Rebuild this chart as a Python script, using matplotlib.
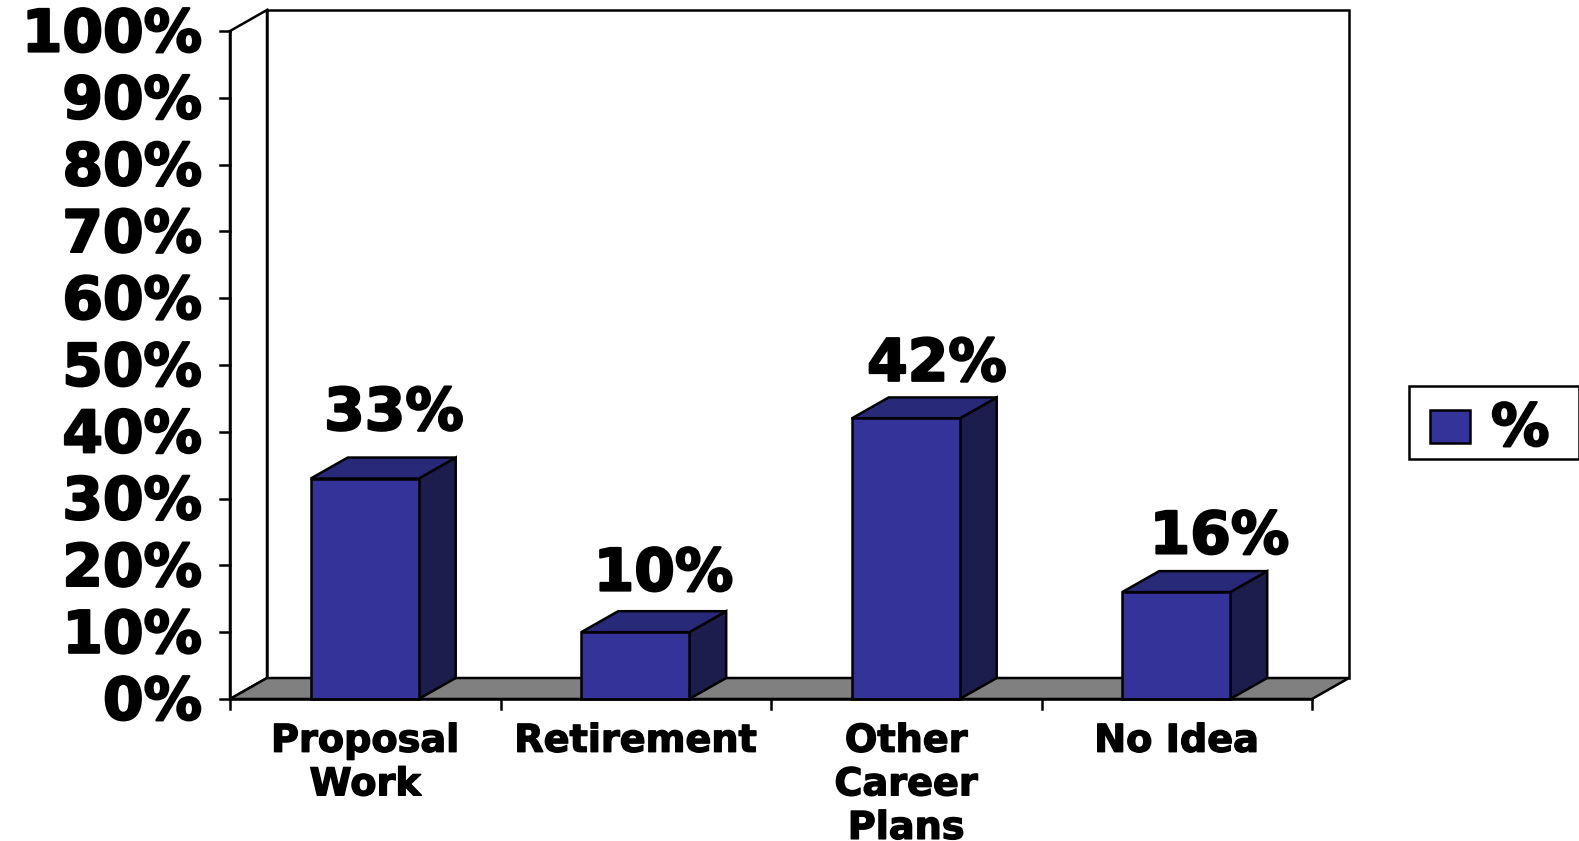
import matplotlib
matplotlib.use("Agg")
import matplotlib.pyplot as plt
import matplotlib.patheffects as pe
from matplotlib.patches import Polygon, Rectangle

categories = ["Proposal\nWork", "Retirement", "Other\nCareer\nPlans", "No Idea"]
values = [33, 10, 42, 16]
value_labels = ["33%", "10%", "42%", "16%"]
y_ticks = list(range(0, 101, 10))
series_name = "%"

W, H = 1579, 841
L, R, T, B = 230, 1312, 31, 699
DX_PX, DY_PX = 37, 21
FRONT, TOP, SIDE = "#333399", "#29297a", "#1c1c4d"
label_offsets_px = [(1, 9), (0, 2), (3, -2), (15, -1)]
plt.rcParams["font.family"] = ["DejaVu Sans"]
plt.rcParams["font.weight"] = "bold"

fig = plt.figure(figsize=(W / 100, H / 100), dpi=100, facecolor="white")
ax = fig.add_axes([L / W, 1 - B / H, (R - L) / W, (B - T) / H])
n = len(categories)
ax.set_xlim(0, n)
ax.set_ylim(0, 100)
ax.patch.set_visible(False)
for s in ax.spines.values():
    s.set_visible(False)
ax.set_xticks([])
ax.set_yticks([])

ux = (R - L) / n   # pixels per category
uy = (B - T) / 100  # pixels per percent
dx = DX_PX / ux
dy = DY_PX / uy
lw = 1.8
kw = dict(clip_on=False, edgecolor="black", linewidth=lw, joinstyle="miter")
big = dict(fontsize=42, fontweight="bold", path_effects=[pe.withStroke(linewidth=1.6, foreground="black")])
small = dict(fontsize=27.5, fontweight="bold", path_effects=[pe.withStroke(linewidth=1.0, foreground="black")])

# back wall and floor
ax.add_patch(Polygon([(0, 0), (dx, dy), (dx, 100 + dy), (0, 100)], closed=True, facecolor="white", **kw))
ax.add_patch(Rectangle((dx, dy), n, 100, facecolor="white", **kw))
ax.add_patch(Polygon([(0, 0), (n, 0), (n + dx, dy), (dx, dy)], closed=True, facecolor="#808080", **kw))

# axes with ticks
ax.plot([0, 0], [0, 100], color="black", lw=lw, clip_on=False)
ax.plot([0, n], [0, 0], color="black", lw=lw, clip_on=False)
for v in y_ticks:
    ax.plot([-10 / ux, 0], [v, v], color="black", lw=lw, clip_on=False)
    ax.text(-28 / ux, v - 4 / uy, f"{v}%", ha="right", va="center", **big)
for i in range(n + 1):
    ax.plot([i, i], [0, -10 / uy], color="black", lw=lw, clip_on=False)

# bars
bw = 108 / ux
for i, (v, lab, c, off) in enumerate(zip(values, value_labels, categories, label_offsets_px)):
    x0 = i + 0.5 - bw / 2 - 0.002
    x1 = x0 + bw
    ax.add_patch(Polygon([(x1, 0), (x1 + dx, dy), (x1 + dx, v + dy), (x1, v)], closed=True, facecolor=SIDE, **kw))
    ax.add_patch(Polygon([(x0, v), (x1, v), (x1 + dx, v + dy), (x0 + dx, v + dy)], closed=True, facecolor=TOP, **kw))
    ax.add_patch(Rectangle((x0, 0), bw, v, facecolor=FRONT, **kw))
    ax.text(i + 0.5 + dx * 0.75 + off[0] / ux, v + dy + 1.0 + off[1] / uy, lab, ha="center", va="bottom", **big)
    ax.text(i + 0.5, -3.7, c, ha="center", va="top", linespacing=1.27, **small)

# legend
fig.add_artist(Rectangle((1409 / W, 1 - 459 / H), 170 / W, 73 / H, transform=fig.transFigure,
                         facecolor="white", edgecolor="black", linewidth=lw))
fig.add_artist(Rectangle((1430 / W, 1 - 443 / H), 40 / W, 33 / H, transform=fig.transFigure,
                         facecolor=FRONT, edgecolor="black", linewidth=lw))
fig.text(1491 / W, 1 - 429 / H, series_name, ha="left", va="center", **big)

fig.savefig("out.png", dpi=100)
